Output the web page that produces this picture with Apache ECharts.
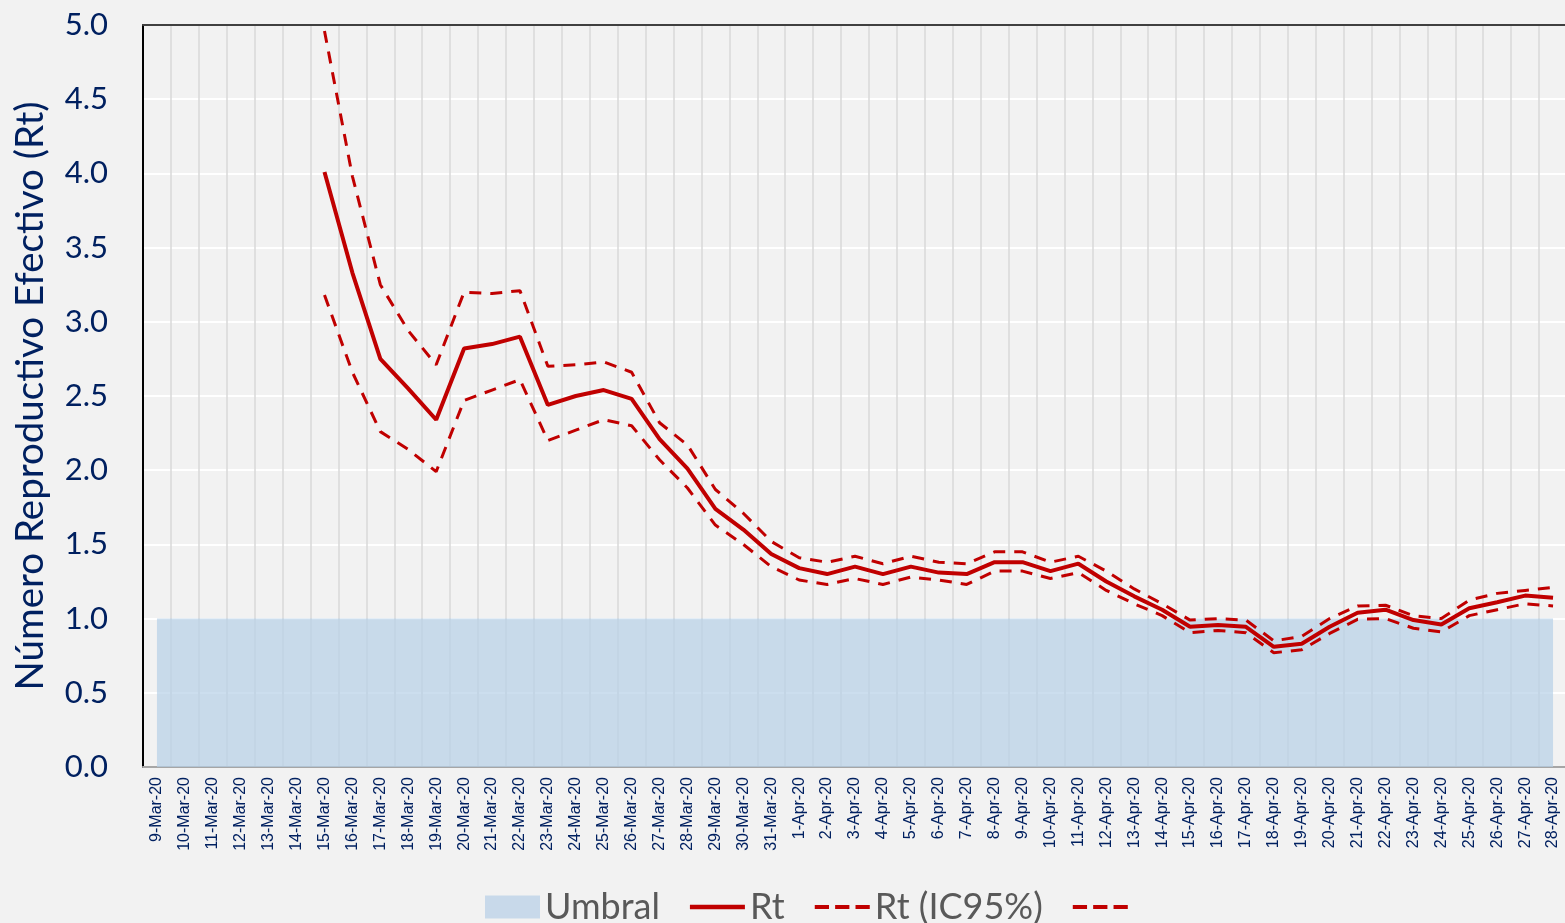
<!DOCTYPE html>
<html>
<head>
<meta charset="utf-8">
<script src="https://cdn.jsdelivr.net/npm/echarts@6/dist/echarts.min.js"></script>
<style>
	html, body { margin: 0; padding: 0; background: #f2f2f2; }
	#rt-chart { width: 1565px; height: 923px; }
</style>
</head>
<body>
<div id="rt-chart"></div>
<script>
var dias = ['9-Mar-20', '10-Mar-20', '11-Mar-20', '12-Mar-20', '13-Mar-20', '14-Mar-20', '15-Mar-20',
	'16-Mar-20', '17-Mar-20', '18-Mar-20', '19-Mar-20', '20-Mar-20', '21-Mar-20', '22-Mar-20', '23-Mar-20',
	'24-Mar-20', '25-Mar-20', '26-Mar-20', '27-Mar-20', '28-Mar-20', '29-Mar-20', '30-Mar-20', '31-Mar-20',
	'1-Apr-20', '2-Apr-20', '3-Apr-20', '4-Apr-20', '5-Apr-20', '6-Apr-20', '7-Apr-20', '8-Apr-20',
	'9-Apr-20', '10-Apr-20', '11-Apr-20', '12-Apr-20', '13-Apr-20', '14-Apr-20', '15-Apr-20', '16-Apr-20',
	'17-Apr-20', '18-Apr-20', '19-Apr-20', '20-Apr-20', '21-Apr-20', '22-Apr-20', '23-Apr-20', '24-Apr-20',
	'25-Apr-20', '26-Apr-20', '27-Apr-20', '28-Apr-20'];

// umbral Rt = 1
var umbral = [1, 1, 1, 1, 1, 1, 1, 1, 1, 1, 1, 1, 1, 1, 1, 1, 1, 1, 1, 1, 1, 1, 1, 1, 1, 1,
	1, 1, 1, 1, 1, 1, 1, 1, 1, 1, 1, 1, 1, 1, 1, 1, 1, 1, 1, 1, 1, 1, 1, 1, 1];

var rt = [null, null, null, null, null, null,
	4.01, 3.33, 2.75, 2.55, 2.34, 2.82, 2.85, 2.90, 2.44, 2.50, 2.54, 2.48, 2.21, 2.01, 1.74, 1.60, 1.435,
	1.34, 1.30, 1.35, 1.30, 1.35, 1.31, 1.30, 1.38, 1.38, 1.32, 1.37, 1.25, 1.15, 1.06,
	0.945, 0.957, 0.945, 0.81, 0.83, 0.945, 1.04, 1.06, 0.99, 0.96, 1.07, 1.11, 1.155, 1.14];

var rt_inf = [null, null, null, null, null, null,
	3.18, 2.66, 2.26, 2.14, 1.99, 2.47, 2.54, 2.61, 2.20, 2.27, 2.34, 2.30, 2.07, 1.88, 1.63, 1.50, 1.35,
	1.26, 1.23, 1.27, 1.23, 1.28, 1.26, 1.23, 1.32, 1.32, 1.27, 1.31, 1.19, 1.10, 1.02,
	0.905, 0.92, 0.905, 0.77, 0.79, 0.90, 0.995, 1.00, 0.935, 0.91, 1.02, 1.06, 1.10, 1.085];

var rt_sup = [null, null, null, null, null, null,
	4.96, 3.98, 3.25, 2.94, 2.71, 3.20, 3.19, 3.21, 2.70, 2.71, 2.73, 2.66, 2.32, 2.17, 1.87, 1.71, 1.52,
	1.41, 1.38, 1.42, 1.37, 1.42, 1.38, 1.37, 1.45, 1.45, 1.38, 1.42, 1.32, 1.20, 1.10,
	0.99, 1.00, 0.99, 0.85, 0.88, 1.00, 1.085, 1.09, 1.02, 1.00, 1.125, 1.17, 1.19, 1.21];

var rojo = '#c00000';
var azul = '#002060';

// iconos de leyenda: linea continua y linea discontinua
var icono_linea = 'path://M0,0h55v4.5h-55z';
var icono_guiones = 'path://M0,0h14v4h-14z M20,0h14v4h-14z M40,0h14v4h-14z';

var rtChart = echarts.init(document.getElementById('rt-chart'));

var my_option = {
	animation: false,
	backgroundColor: '#f2f2f2',
	grid: {
		left: 143,
		top: 25,
		width: 1424,
		height: 742,
		outerBoundsMode: 'none'
	},
	legend: {
		left: 480,
		top: 884,
		itemWidth: 55,
		itemHeight: 23,
		itemGap: 30,
		textStyle: {
			fontFamily: 'Lato',
			fontSize: 36,
			color: '#595959'
		},
		data: [
			{ name: 'Umbral', icon: 'rect' },
			{ name: 'Rt', icon: icono_linea },
			{ name: 'Rt (IC95%)', icon: icono_guiones },
			{ name: ' ', icon: icono_guiones }
		]
	},
	xAxis: [{
		type: 'category',
		data: dias,
		boundaryGap: true,
		axisTick: { show: false },
		axisLine: {
			lineStyle: { color: '#a6a6a6', width: 2 }
		},
		axisLabel: {
			interval: 0,
			rotate: 90,
			margin: 10,
			color: azul,
			fontFamily: "'Liberation Sans Narrow', 'Liberation Sans'",
			fontSize: 16
		},
		splitLine: {
			show: true,
			interval: 0,
			lineStyle: { color: '#d9d9d9', width: 1.5 }
		}
	}, {
		type: 'category',
		data: dias,
		position: 'top',
		axisTick: { show: false },
		axisLabel: { show: false },
		axisLine: {
			lineStyle: { color: '#404040', width: 2 }
		},
		splitLine: { show: false }
	}],
	yAxis: {
		type: 'value',
		min: 0,
		max: 5,
		interval: 0.5,
		name: 'Número Reproductivo Efectivo (Rt)',
		nameLocation: 'middle',
		nameGap: 93,
		nameTextStyle: {
			fontFamily: 'Lato',
			fontSize: 38.5,
			color: azul
		},
		axisTick: { show: false },
		axisLine: {
			show: true,
			lineStyle: { color: '#000000', width: 2 }
		},
		axisLabel: {
			margin: 35,
			color: azul,
			fontFamily: 'Lato',
			fontSize: 31,
			formatter: function (v) {
				return v.toFixed(1);
			}
		},
		splitLine: {
			lineStyle: { color: '#ffffff', width: 2 }
		}
	},
	series: [{
		name: 'Umbral',
		type: 'line',
		data: umbral,
		symbol: 'none',
		color: '#c8d9ea',
		lineStyle: { width: 0 },
		areaStyle: { color: 'rgba(183,208,231,0.7)', opacity: 1 }
	}, {
		name: 'Rt',
		type: 'line',
		data: rt,
		symbol: 'none',
		color: rojo,
		lineStyle: { color: rojo, width: 4 }
	}, {
		name: 'Rt (IC95%)',
		type: 'line',
		data: rt_inf,
		symbol: 'none',
		color: rojo,
		lineStyle: { color: rojo, width: 3, type: [12, 9] }
	}, {
		name: ' ',
		type: 'line',
		data: rt_sup,
		symbol: 'none',
		color: rojo,
		lineStyle: { color: rojo, width: 3, type: [12, 9] }
	}]
};

rtChart.setOption(my_option);
</script>
</body>
</html>
